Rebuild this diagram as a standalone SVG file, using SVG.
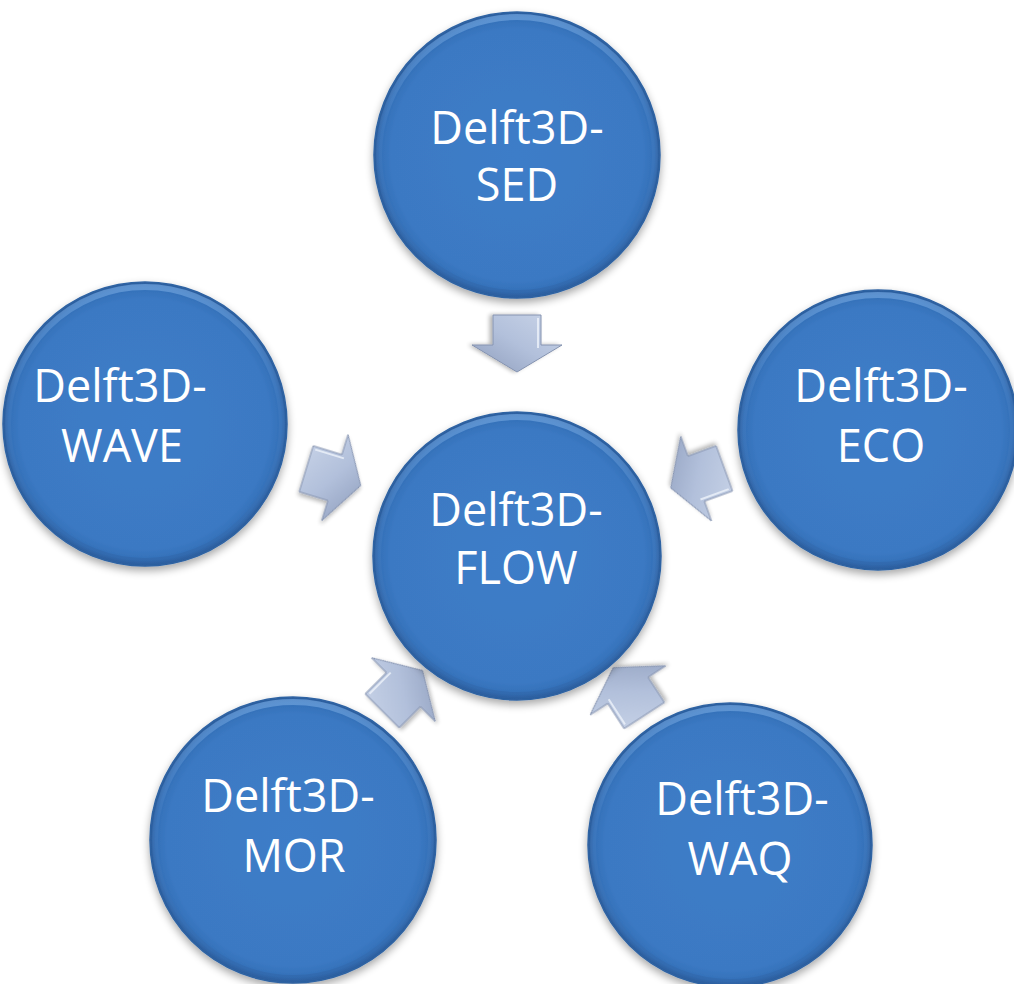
<svg xmlns="http://www.w3.org/2000/svg" width="1014" height="984" viewBox="0 0 1014 984">
  <style>
    .node circle { fill: url(#ballGrad); stroke: #2f63a3; stroke-width: 1.5; filter: url(#shadow); }
    .node .rim { fill: none; stroke: url(#rimGrad); stroke-width: 6; filter: none; }
    .label { font-family: "Open Sans", "Liberation Sans", sans-serif; font-size: 45px; fill: #ffffff; text-anchor: middle; }
    .arrow { fill: url(#arrowGrad); stroke: #8593b0; stroke-width: 1; stroke-linejoin: round; filter: url(#ashadow); }
    .bevel { fill: none; stroke: #eef2fa; stroke-width: 2; stroke-opacity: 0.8; }
  </style>
  <defs>
    <radialGradient id="ballGrad" cx="50%" cy="50%" r="50%">
      <stop offset="0%" stop-color="#3e7dc8"/>
      <stop offset="88%" stop-color="#3b79c3"/>
      <stop offset="96%" stop-color="#3470b8"/>
      <stop offset="100%" stop-color="#2a5a98"/>
    </radialGradient>
    <linearGradient id="rimGrad" x1="0" y1="0" x2="0" y2="1">
      <stop offset="0%" stop-color="#6fa3dd" stop-opacity="0.7"/>
      <stop offset="40%" stop-color="#5a90d0" stop-opacity="0.2"/>
      <stop offset="100%" stop-color="#2a5a98" stop-opacity="0.3"/>
    </linearGradient>
    <linearGradient id="arrowGrad" x1="0" y1="0" x2="1" y2="1">
      <stop offset="0%" stop-color="#c9d4e8"/>
      <stop offset="50%" stop-color="#b2c0db"/>
      <stop offset="100%" stop-color="#8e9dbc"/>
    </linearGradient>
    <filter id="shadow" x="-20%" y="-20%" width="140%" height="140%">
      <feGaussianBlur in="SourceAlpha" stdDeviation="4"/>
      <feOffset dx="0" dy="4" result="b"/>
      <feComponentTransfer><feFuncA type="linear" slope="0.35"/></feComponentTransfer>
      <feMerge><feMergeNode/><feMergeNode in="SourceGraphic"/></feMerge>
    </filter>
    <filter id="ashadow" x="-30%" y="-30%" width="160%" height="160%">
      <feGaussianBlur in="SourceAlpha" stdDeviation="2"/>
      <feOffset dx="0" dy="3" result="b"/>
      <feComponentTransfer><feFuncA type="linear" slope="0.3"/></feComponentTransfer>
      <feMerge><feMergeNode/><feMergeNode in="SourceGraphic"/></feMerge>
    </filter>
    <path id="blockArrow" d="M -28,-24 L 2,-24 L 2,-45 L 29,0 L 2,45 L 2,24 L -28,24 Z"/>
  </defs>

  <g id="connectors">
    <g id="arrow-sed-flow" transform="translate(517,343) rotate(90)">
      <use href="#blockArrow" class="arrow"/>
      <path class="bevel" d="M -25,-21 L 5,-21"/>
    </g>
    <g id="arrow-wave-flow" transform="translate(333,477) rotate(17)">
      <use href="#blockArrow" class="arrow"/>
      <path class="bevel" d="M -25,-21 L 5,-21"/>
    </g>
    <g id="arrow-eco-flow" transform="translate(698,478) rotate(160)">
      <use href="#blockArrow" class="arrow"/>
      <path class="bevel" d="M -25,-21 L 5,-21"/>
    </g>
    <g id="arrow-mor-flow" transform="translate(402,691) rotate(-45)">
      <use href="#blockArrow" class="arrow"/>
      <path class="bevel" d="M -25,-21 L 5,-21"/>
    </g>
    <g id="arrow-waq-flow" transform="translate(629,692) rotate(-123)">
      <use href="#blockArrow" class="arrow"/>
      <path class="bevel" d="M -25,-21 L 5,-21"/>
    </g>
  </g>

  <g id="node-sed" class="node">
    <circle cx="517" cy="155" r="143"/>
    <circle class="rim" cx="517" cy="155" r="138"/>
    <text class="label" x="517" y="144">Delft3D-</text>
    <text class="label" x="517" y="201">SED</text>
  </g>
  <g id="node-wave" class="node">
    <circle cx="145" cy="424" r="142"/>
    <circle class="rim" cx="145" cy="424" r="137"/>
    <text class="label" x="120" y="402">Delft3D-</text>
    <text class="label" x="122" y="462">WAVE</text>
  </g>
  <g id="node-eco" class="node">
    <circle cx="878" cy="430" r="140"/>
    <circle class="rim" cx="878" cy="430" r="135"/>
    <text class="label" x="881" y="402">Delft3D-</text>
    <text class="label" x="881" y="462">ECO</text>
  </g>
  <g id="node-flow" class="node">
    <circle cx="517" cy="556" r="144"/>
    <circle class="rim" cx="517" cy="556" r="139"/>
    <text class="label" x="516" y="526">Delft3D-</text>
    <text class="label" x="516" y="584">FLOW</text>
  </g>
  <g id="node-mor" class="node">
    <circle cx="293" cy="840" r="143"/>
    <circle class="rim" cx="293" cy="840" r="138"/>
    <text class="label" x="288" y="812">Delft3D-</text>
    <text class="label" x="294" y="872">MOR</text>
  </g>
  <g id="node-waq" class="node">
    <circle cx="730" cy="845" r="142"/>
    <circle class="rim" cx="730" cy="845" r="137"/>
    <text class="label" x="742" y="815">Delft3D-</text>
    <text class="label" x="740" y="875">WAQ</text>
  </g>
</svg>
